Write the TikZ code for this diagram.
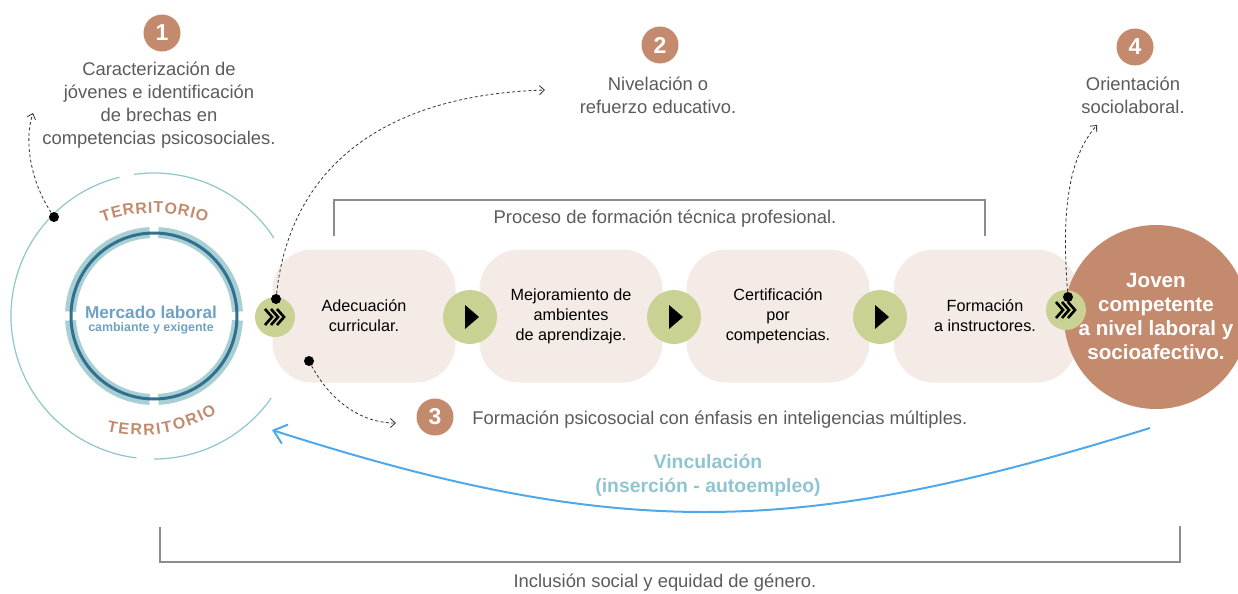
\documentclass[tikz,border=0pt]{standalone}
\usepackage{fontspec}
\setmainfont{Liberation Sans}
\usetikzlibrary{arrows.meta,calc,decorations.text}
\definecolor{copper}{HTML}{C48A6D}
\definecolor{leaf}{HTML}{C9D193}
\definecolor{blush}{HTML}{F4EAE6}
\definecolor{terrline}{HTML}{8FC6CC}
\definecolor{bandteal}{HTML}{A7CFD4}
\definecolor{ringblue}{HTML}{336F8F}
\definecolor{mercblue}{HTML}{6FA2C2}
\definecolor{vinc}{HTML}{8DC6D0}
\definecolor{sky}{HTML}{4DA9E9}
\definecolor{inkgray}{HTML}{5B5B5B}
\definecolor{rulegray}{HTML}{8C8C8C}

\begin{document}
\begin{tikzpicture}[x=0.5pt,y=-0.5pt,
    badge/.style={circle, fill=copper, text=white, inner sep=0pt, minimum size=18.5pt, font=\bfseries\fontsize{11.5}{12}\selectfont},
    note/.style={align=center, text=inkgray, inner sep=0pt, font=\fontsize{9.2}{11.5}\selectfont},
    stepbox/.style={fill=blush, rounded corners=20pt, minimum width=91.5pt, minimum height=66.5pt, align=center, inner sep=0pt, font=\fontsize{8.1}{10}\selectfont},
    playdot/.style={circle, fill=leaf, inner sep=0pt, minimum size=27pt},
    chevdot/.style={circle, fill=leaf, inner sep=0pt, minimum size=20pt},
    pin/.style={circle, fill=black, inner sep=0pt, minimum size=5pt},
    hint/.style={draw=black!80, line width=0.4pt, dash pattern=on 1.5pt off 1.2pt, -{Straight Barb[length=2.5pt,width=4.5pt]}},
    chevron/.style={line width=1.3pt, line join=miter},
    bracket/.style={draw=rulegray, line width=0.6pt},
    territorio/.style={decorate, decoration={text along path, text align=center, text={|\bfseries\fontsize{8}{8}\selectfont\color{copper}\kern#1|TERRITORIO}}},
    territorio/.default=0.4pt]
   \useasboundingbox (0,0) rectangle (1238,594);
   \clip (0,0) rectangle (1238,594);
   \coordinate (terr) at (154,316);
   \draw[terrline, line width=0.6pt] ($(terr)+(-33:143)$) arc[start angle=-33, end angle=-98, radius=143];
   \draw[terrline, line width=0.6pt] ($(terr)+(-104:143)$) arc[start angle=-104, end angle=-263, radius=143];
   \draw[terrline, line width=0.6pt] ($(terr)+(-270:143)$) arc[start angle=-270, end angle=-325, radius=143];
   \foreach \a in {3,93,183,273}
      \draw[bandteal, line width=5.5pt] ($(terr)+(\a:83.5)$) arc[start angle=\a, delta angle=84, radius=83.5];
   \draw[ringblue, line width=1.5pt] (terr) circle[radius=83];
   \coordinate (terr-top) at (154,363);
   \coordinate (terr-bot) at (140,290);
   \path[territorio] ($(terr-top)+(-130:150)$) arc[start angle=-130, end angle=-50, radius=150];
   \path[territorio=0.9pt] ($(terr-bot)+(118:145)$) arc[start angle=118, end angle=44, radius=145];
   \node[font=\bfseries\fontsize{8.6}{9}\selectfont, text=mercblue] (merc) at (151,312) {Mercado laboral};
   \node[font=\bfseries\fontsize{6.2}{7}\selectfont, text=mercblue] (merc-sub) at (151,328) {cambiante y exigente};

   \node[stepbox] (s1) at (364,316) {Adecuación\\curricular.};
   \node[stepbox] (s2) at (571,316) {Mejoramiento de\\ambientes\\de aprendizaje.};
   \node[stepbox] (s3) at (778,316) {Certificación\\por\\competencias.};
   \node[stepbox] (s4) at (985,316) {Formación\\a instructores.};
   \node[circle, fill=copper, minimum size=92pt, inner sep=0pt, text=white, align=center,
         font=\bfseries\fontsize{10.3}{12}\selectfont] (joven) at (1156,317) {Joven\\competente\\a nivel laboral y\\socioafectivo.};
   \node[chevdot] (c1) at (275,317) {};
   \node[playdot] (p1) at (470,317) {};
   \node[playdot] (p2) at (674,317) {};
   \node[playdot] (p3) at (880,317) {};
   \node[chevdot] (c2) at (1066,310) {};
   \foreach \n in {c1,c2}
      \foreach \i in {0,1,2}
         \draw[chevron] ($(\n)+(-10+6*\i,-8)$) -- ++(7,8) -- ++(-7,8);
   \foreach \n in {p1,p2,p3}
      \fill ($(\n)+(-5,-12)$) -- ++(14,12) -- ++(-14,12) -- cycle;

   \node[badge] (n1) at (162,33) {1};
   \node[badge] (n2) at (660,45) {2};
   \node[badge] (n3) at (435,417) {3};
   \node[badge] (n4) at (1135,47) {4};
   \node[note] (t1) at (159,105) {Caracterización de\\jóvenes e identificación\\de brechas en\\competencias psicosociales.};
   \node[note] (t2) at (658,95) {Nivelación o\\refuerzo educativo.};
   \node[note, anchor=west] (t3) at (472,420) {Formación psicosocial con énfasis en inteligencias múltiples.};
   \node[note] (t4) at (1133,95) {Orientación\\sociolaboral.};

   \node[note] (proc) at (665,219) {Proceso de formación técnica profesional.};
   \draw[bracket] (334,236) -- (334,200) -- (985,200) -- (985,236);
   \draw[bracket] (160,527) -- (160,562) -- (1180,562) -- (1180,526);
   \node[note] (incl) at (665,583) {Inclusión social y equidad de género.};

   \node[align=center, text=vinc, font=\bfseries\fontsize{9.7}{12}\selectfont] (vinc) at (708,475) {Vinculación\\(inserción - autoempleo)};
   \coordinate (vin-a) at (1150,428);
   \coordinate (vin-b) at (272,430);
   \draw[sky, line width=1pt, -{Straight Barb[length=6pt,width=10pt]}] (vin-a) .. controls (800,537) and (622,542) .. (vin-b);

   \node[pin] (d1) at (54,217) {};
   \node[pin] (d2) at (276,299) {};
   \node[pin] (d3) at (309,361) {};
   \node[pin] (d4) at (1068,297) {};
   \coordinate (h1) at (33,113);
   \coordinate (h2) at (545,90);
   \coordinate (h3) at (396,423);
   \coordinate (h4) at (1097,125);
   \draw[hint] (d1) .. controls (30,180) and (24,140) .. (h1);
   \draw[hint] (d2) .. controls (290,170) and (380,95) .. (h2);
   \draw[hint] (d3) .. controls (330,400) and (360,423) .. (h3);
   \draw[hint] (d4) .. controls (1062,220) and (1066,160) .. (h4);
\end{tikzpicture}
\end{document}
